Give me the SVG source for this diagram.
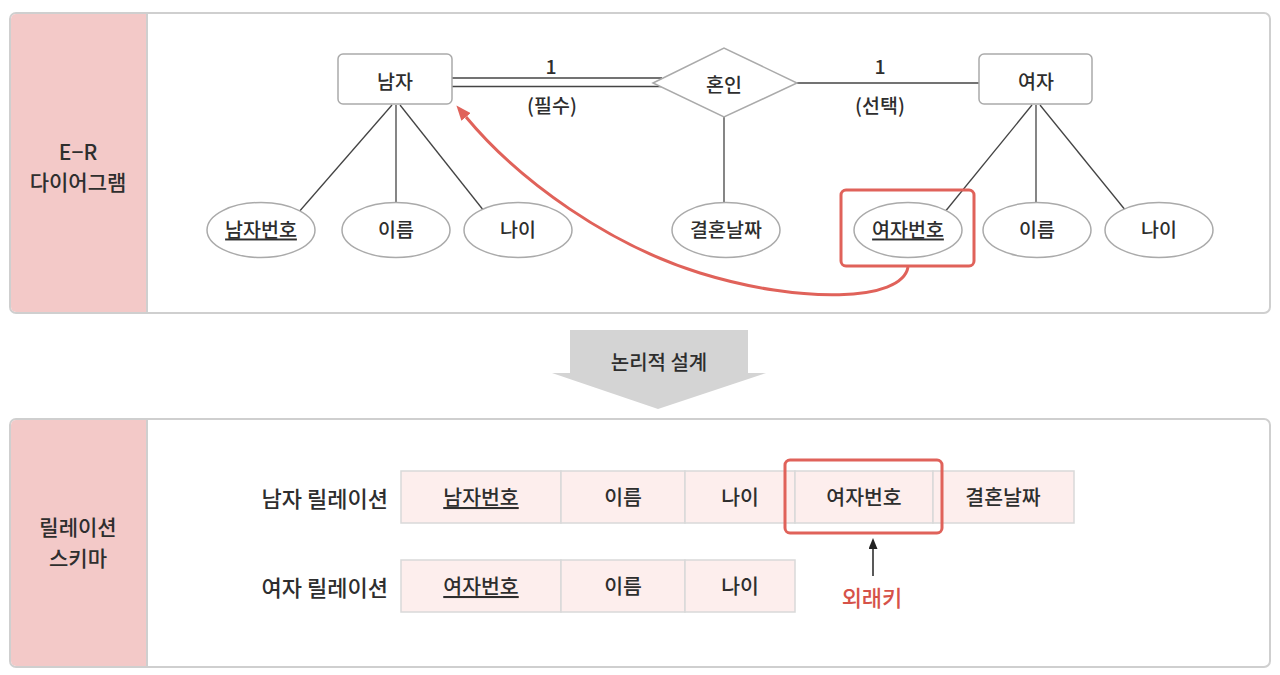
<svg xmlns="http://www.w3.org/2000/svg" width="1280" height="675" viewBox="0 0 1280 675">
<defs>
<style>
text{font-family:"Noto Sans CJK KR","Noto Sans",sans-serif;fill:#2e2e2e;font-weight:500;dominant-baseline:central;text-anchor:middle}
.t{font-size:19.5px}
.lab{font-size:21px}
.rl{font-size:22px}
.cell{font-size:20.5px}
.u{text-decoration:underline}
.ent{fill:#fff;stroke:#aaa;stroke-width:1.5}
.att{fill:#fff;stroke:#aaa;stroke-width:1.5}
.ln{stroke:#444;stroke-width:1.3;fill:none}
.panel{fill:#fff;stroke:#cfcfcf;stroke-width:2}
.pink{fill:#f3c9c8}
.c{fill:#fdeeed;stroke:#d9d9d9;stroke-width:1.5}
.red{fill:none;stroke:#e0625a;stroke-width:3}
</style>
<marker id="ra" markerUnits="userSpaceOnUse" markerWidth="16" markerHeight="12" refX="0" refY="6" orient="auto">
<path d="M0,0 L15,6 L0,12 z" fill="#e0625a"/>
</marker>
<marker id="ba" markerUnits="userSpaceOnUse" markerWidth="12" markerHeight="10" refX="0" refY="4.5" orient="auto">
<path d="M0,0 L11,4.5 L0,9 z" fill="#222"/>
</marker>
</defs>
<rect width="1280" height="675" fill="#fff"/>

<g id="panel-er">
<rect class="panel" x="10" y="13" width="1260" height="300" rx="6"/>
<path class="pink" d="M147 14 H16 A5 5 0 0 0 11 19 V307 A5 5 0 0 0 16 312 H147 Z"/>
<line x1="147" y1="14" x2="147" y2="312" stroke="#cfcfcf" stroke-width="2"/>
<text class="lab" x="78" y="151">E−R</text>
<text class="lab" x="78" y="181">다이어그램</text>
</g>

<g id="panel-schema">
<rect class="panel" x="10" y="419" width="1260" height="248" rx="6"/>
<path class="pink" d="M147 420 H16 A5 5 0 0 0 11 425 V661 A5 5 0 0 0 16 666 H147 Z"/>
<line x1="147" y1="420" x2="147" y2="666" stroke="#cfcfcf" stroke-width="2"/>
<text class="lab" x="78" y="526">릴레이션</text>
<text class="lab" x="78" y="557">스키마</text>
</g>

<g id="connectors">
<line class="ln" x1="452" y1="78" x2="662" y2="78"/>
<line class="ln" x1="452" y1="86.5" x2="662" y2="86.5"/>
<line class="ln" x1="797" y1="83" x2="979" y2="83"/>
<line class="ln" x1="392" y1="105" x2="298" y2="213"/>
<line class="ln" x1="396" y1="105" x2="396" y2="210"/>
<line class="ln" x1="400" y1="105" x2="484" y2="211"/>
<line class="ln" x1="724" y1="117" x2="724" y2="210"/>
<line class="ln" x1="1032" y1="105" x2="944" y2="213"/>
<line class="ln" x1="1036" y1="105" x2="1036" y2="210"/>
<line class="ln" x1="1040" y1="105" x2="1126" y2="211"/>
<path d="M908 267 C902 302, 800 304, 700 273 C610 245, 520 182, 466 117" fill="none" stroke="#e0625a" stroke-width="3" marker-end="url(#ra)"/>
<line x1="873" y1="576" x2="873" y2="549" stroke="#222" stroke-width="1.5" marker-end="url(#ba)"/>
</g>

<g id="label-1-left"><text class="t" x="551" y="65">1</text><text class="t" x="552" y="104">(필수)</text></g>
<g id="label-1-right"><text class="t" x="880" y="65">1</text><text class="t" x="880" y="104">(선택)</text></g>

<g id="ent-man"><rect class="ent" x="338" y="54" width="114" height="50" rx="5"/><text class="t" x="395" y="80">남자</text></g>
<g id="rel-marriage"><polygon class="ent" points="653,83 724,48 797,83 724,117"/><text class="t" x="724" y="83">혼인</text></g>
<g id="ent-woman"><rect class="ent" x="979" y="54" width="113" height="50" rx="5"/><text class="t" x="1036" y="80">여자</text></g>

<g id="att-man-no"><ellipse class="att" cx="261" cy="230" rx="54" ry="27.5"/><text class="t u" x="261" y="228">남자번호</text></g>
<g id="att-man-name"><ellipse class="att" cx="396" cy="230" rx="54" ry="27.5"/><text class="t" x="396" y="228">이름</text></g>
<g id="att-man-age"><ellipse class="att" cx="518" cy="230" rx="54" ry="27.5"/><text class="t" x="518" y="228">나이</text></g>
<g id="att-date"><ellipse class="att" cx="726" cy="230" rx="54" ry="27.5"/><text class="t" x="726" y="228">결혼날짜</text></g>
<g id="att-woman-no"><ellipse class="att" cx="908" cy="230" rx="54" ry="27.5"/><text class="t u" x="908" y="228">여자번호</text></g>
<g id="att-woman-name"><ellipse class="att" cx="1037" cy="230" rx="54" ry="27.5"/><text class="t" x="1037" y="228">이름</text></g>
<g id="att-woman-age"><ellipse class="att" cx="1159" cy="230" rx="54" ry="27.5"/><text class="t" x="1159" y="228">나이</text></g>
<g id="highlight-er"><rect class="red" x="841" y="190" width="133" height="76" rx="5"/></g>

<g id="arrow-logical">
<polygon points="570,330 748,330 748,373 766,373 658,409 552,373 570,373" fill="#d4d4d4"/>
<text class="t" x="659" y="361" style="font-size:20px">논리적 설계</text>
</g>

<g id="rel-man">
<text class="rl" x="388" y="497" style="text-anchor:end">남자 릴레이션</text>
<rect class="c" x="401" y="471" width="160" height="52"/>
<rect class="c" x="561" y="471" width="124" height="52"/>
<rect class="c" x="685" y="471" width="110" height="52"/>
<rect class="c" x="795" y="471" width="138" height="52"/>
<rect class="c" x="933" y="471" width="141" height="52"/>
<text class="cell u" x="481" y="496">남자번호</text>
<text class="cell" x="623" y="496">이름</text>
<text class="cell" x="740" y="496">나이</text>
<text class="cell" x="864" y="496">여자번호</text>
<text class="cell" x="1003" y="496">결혼날짜</text>
</g>

<g id="rel-woman">
<text class="rl" x="388" y="586" style="text-anchor:end">여자 릴레이션</text>
<rect class="c" x="401" y="560" width="160" height="52"/>
<rect class="c" x="561" y="560" width="124" height="52"/>
<rect class="c" x="685" y="560" width="110" height="52"/>
<text class="cell u" x="481" y="585">여자번호</text>
<text class="cell" x="623" y="585">이름</text>
<text class="cell" x="740" y="585">나이</text>
</g>

<g id="highlight-fk"><rect class="red" x="785" y="460" width="157" height="73" rx="5"/></g>
<g id="label-fk"><text class="lab" x="872" y="596" style="fill:#d65249;font-size:22px">외래키</text></g>
</svg>
